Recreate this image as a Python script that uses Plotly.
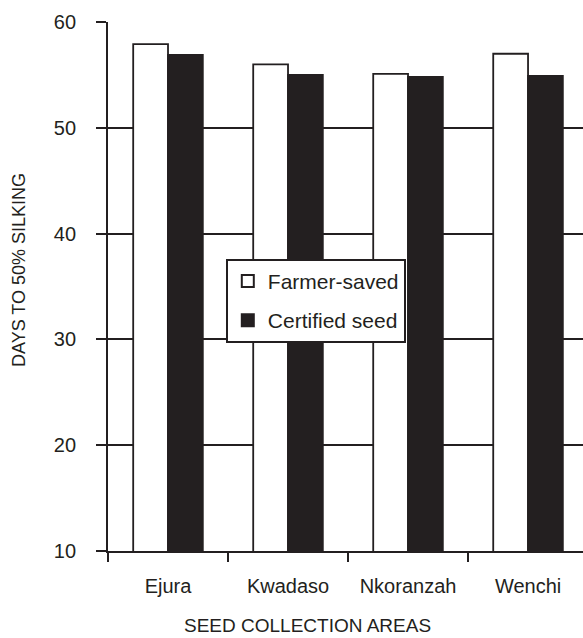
import plotly.graph_objects as go

areas = ["Ejura", "Kwadaso", "Nkoranzah", "Wenchi"]
farmer_saved = [57.9, 56.0, 55.1, 57.0]
certified = [56.9, 55.0, 54.8, 54.9]

ink = "#231f20"
fig = go.Figure()
fig.add_trace(go.Bar(x=areas, y=farmer_saved, name="Farmer-saved", legendgroup="a",
                     marker=dict(color="white", line=dict(color=ink, width=1.8))))
fig.add_trace(go.Bar(x=areas, y=certified, name="Certified seed", legendgroup="b",
                     marker=dict(color=ink, line=dict(color=ink, width=1.8))))

font = "Liberation Sans, Arial, sans-serif"
L, T, B, W, H = 108, 22, 87, 583, 638
pw, ph = W - L, H - T - B

def px(x):
    return (x - L) / pw

def py(y):
    return (H - B - y) / ph

fig.update_layout(
    width=W, height=H,
    margin=dict(l=L, r=0, t=T, b=B),
    plot_bgcolor="white", paper_bgcolor="white",
    barmode="group", bargap=0.42, bargroupgap=0,
    font=dict(family=font, color=ink, size=20),
    showlegend=True,
    legend=dict(x=px(226), y=py(259), xanchor="left", yanchor="top",
                bgcolor="white", bordercolor=ink, borderwidth=1.8,
                font=dict(size=21, color=ink), tracegroupgap=9,
                itemsizing="constant"),
    xaxis=dict(type="category", range=[-0.5, 3.458], tickson="boundaries",
               ticks="outside", ticklen=9, tickwidth=1.8, tickcolor=ink,
               showline=True, linecolor=ink, linewidth=1.8, showgrid=False,
               ticklabelstandoff=16, tickfont=dict(size=20)),
    yaxis=dict(range=[10, 60], tickvals=[10, 20, 30, 40, 50, 60],
               ticks="outside", ticklen=10, tickwidth=1.8, tickcolor=ink,
               showline=True, linecolor=ink, linewidth=1.8,
               showgrid=True, gridcolor=ink, gridwidth=1.8, zeroline=False,
               ticklabelstandoff=16, tickfont=dict(size=20)),
    annotations=[
        dict(text="SEED COLLECTION AREAS", xref="paper", yref="paper",
             x=px(307), y=py(625), xanchor="center", yanchor="middle",
             showarrow=False, font=dict(size=19, color=ink)),
        dict(text="DAYS TO 50% SILKING", xref="paper", yref="paper",
             x=px(19), y=py(270), xanchor="center", yanchor="middle",
             textangle=-90, showarrow=False, font=dict(size=18, color=ink)),
    ],
)
fig.write_html("out.html", config={"displayModeBar": False},
               post_script="document.body.style.margin='0px';")
